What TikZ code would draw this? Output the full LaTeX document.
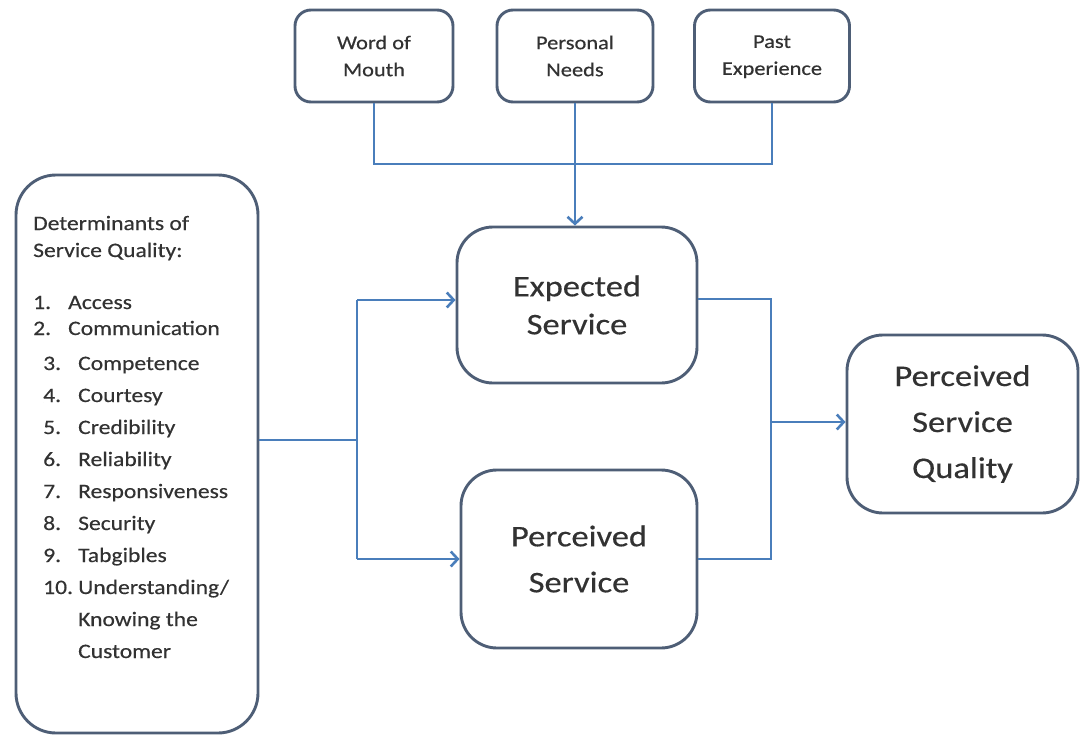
\documentclass[tikz,border=0pt]{standalone}
\usepackage{fontspec}
\setmainfont{Carlito}[FakeStretch=1.15,FakeBold=0.4]
\usetikzlibrary{arrows.meta}
\definecolor{linkblue}{RGB}{74,126,187}
\definecolor{boxline}{RGB}{78,94,118}
\definecolor{txtgray}{RGB}{50,50,50}
\begin{document}
\begin{tikzpicture}[x=1pt,y=-1pt,
  box/.style={draw=boxline, line width=2.9pt, rounded corners=#1, fill=white,
              inner sep=0pt, align=center, text=txtgray},
  listtext/.style={anchor=base west, inner sep=0pt, text=txtgray},
  conn/.style={draw=linkblue, line width=2.8pt},
  arr/.style={conn, -{Straight Barb[length=7pt,width=15pt,line width=2.6pt]}}]
\fill[white] (0,0) rectangle (1080,737);
\useasboundingbox (0,0) rectangle (1080,737);

% top boxes
\node[box=16, minimum width=158pt, minimum height=92pt,
      font=\fontsize{19.5}{27}\selectfont] (wom) at (374,56) {Word of\\Mouth};
\node[box=16, minimum width=156pt, minimum height=92pt,
      font=\fontsize{19.5}{27}\selectfont] (pn) at (575,56) {Personal\\Needs};
\node[box=16, minimum width=155pt, minimum height=92pt,
      font=\fontsize{19.5}{27}\selectfont] (pe) at (772,56) {Past\strut\\Experience\strut};

% middle boxes
\node[box=36, minimum width=240pt, minimum height=156pt,
      font=\fontsize{30}{38}\selectfont] (es) at (577,305) {Expected\\Service};
\node[box=36, minimum width=236pt, minimum height=178pt,
      font=\fontsize{30}{46}\selectfont] (ps) at (579,559) {Perceived\\Service};
\node[box=36, minimum width=231pt, minimum height=178pt,
      font=\fontsize{30}{46}\selectfont] (psq) at (962.5,424) {Perceived\\Service\\Quality};

% left box
\node[box=40, minimum width=242pt, minimum height=558pt] (det) at (137,454) {};
\node[listtext, font=\fontsize{20.5}{27}\selectfont] (dethead) at (33,230)
  {\begin{tabular}[t]{@{}l@{}}Determinants of\\Service Quality:\end{tabular}};
\node[listtext, font=\fontsize{20.5}{26}\selectfont] (lista) at (33,309)
  {\begin{tabular}[t]{@{}l@{}}\makebox[35pt][l]{1.}Access\\
   \makebox[35pt][l]{2.}Communication\end{tabular}};
\node[listtext, font=\fontsize{20.5}{32}\selectfont] (listb) at (43,370)
  {\begin{tabular}[t]{@{}l@{}}\makebox[35pt][l]{3.}Competence\\
   \makebox[35pt][l]{4.}Courtesy\\
   \makebox[35pt][l]{5.}Credibility\\
   \makebox[35pt][l]{6.}Reliability\\
   \makebox[35pt][l]{7.}Responsiveness\\
   \makebox[35pt][l]{8.}Security\\
   \makebox[35pt][l]{9.}Tabgibles\\
   \makebox[35pt][l]{10.}Understanding/\\
   \makebox[35pt][l]{}Knowing the\\
   \makebox[35pt][l]{}Customer\end{tabular}};

% connectors: top
\coordinate (tj) at (575,164);
\draw[conn] (wom.south) |- (tj) -| (pe.south);
\draw[arr] (pn.south) -- (pn.south |- es.north);

% connectors: left
\coordinate (lj) at (357,440);
\coordinate (lt) at (357,300);
\coordinate (lb) at (357,559);
\draw[conn] (det.east |- lj) -- (lj);
\draw[conn] (lt) -- (lb);
\draw[arr] (lt) -- (lt -| es.west);
\draw[arr] (lb) -- (lb -| ps.west);

% connectors: right
\coordinate (rt) at (771,299);
\coordinate (rb) at (771,559);
\coordinate (rm) at (771,422);
\draw[conn] (rt -| es.east) -- (rt) -- (rb) -- (rb -| ps.east);
\draw[arr] (rm) -- (rm -| psq.west);
\end{tikzpicture}
\end{document}
